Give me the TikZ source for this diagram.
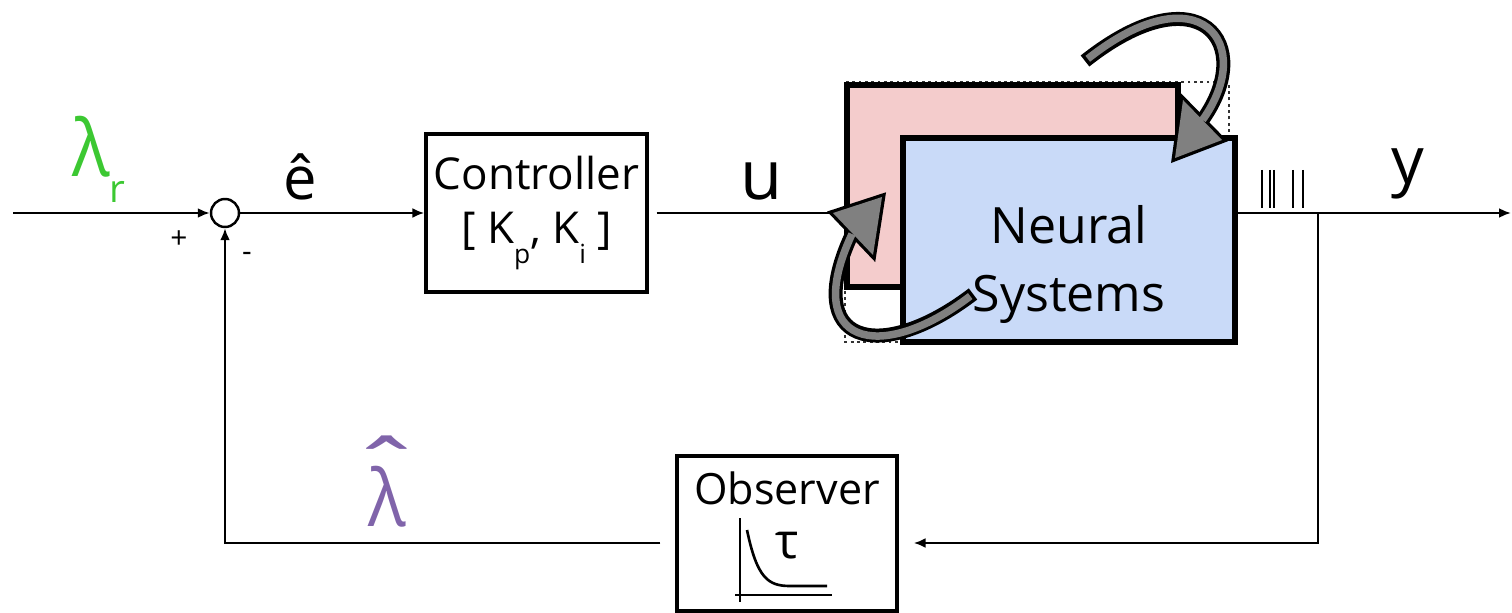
\documentclass[tikz,border=0pt]{standalone}
\usepackage{fontspec}
\setmainfont{Open Sans}
\usepackage{graphicx}
\usetikzlibrary{arrows.meta,positioning,calc}
\definecolor{lamgreen}{RGB}{60,200,50}
\definecolor{lampurple}{RGB}{128,100,170}
\definecolor{nsred}{RGB}{244,204,204}
\definecolor{nsblue}{RGB}{201,218,248}
\definecolor{arrowgray}{RGB}{128,128,128}
\newcommand{\lowsub}[1]{\raisebox{-0.45em}{\fontsize{15}{15}\selectfont #1}}
\newcommand{\talllam}{\scalebox{1}[1.12]{λ}}
\newcommand{\hatlam}{\ooalign{\talllam\cr\hidewidth\raisebox{0.52cm}{\scalebox{1.75}[1.2]{ˆ}}\hidewidth\cr}}
\tikzset{
  loopbox/.style={
    rectangle,
    draw=black,
    fill=white,
    line width=1.9pt,
    inner sep=0pt
  },
  loopsum/.style={
    circle,
    draw=black,
    line width=1.4pt,
    minimum size=5.6mm,
    inner sep=0pt
  },
  loopplant/.style={
    rectangle,
    draw=black,
    line width=3.4pt,
    inner sep=0pt,
    minimum width=6.64cm,
    minimum height=4.08cm
  },
  loopdots/.style={
    dotted,
    line width=1.6pt,
    draw=black!80
  },
  looparrow/.style={
    -{Latex[length=2.4mm,width=2mm]},
    line width=1.5pt,
    draw=black
  },
  loopline/.style={
    line width=1.5pt,
    draw=black
  },
  looptext/.style={
    anchor=base,
    inner sep=0pt
  },
  loopshaft/.style={
    line width=2.8mm,
    draw=black
  },
  loopshaftfill/.style={
    line width=1.5mm,
    draw=arrowgray,
    shorten <=0.7mm
  },
  loophead/.style={
    draw=black,
    line width=1.3mm
  },
  loopheadfill/.style={
    fill=arrowgray
  }
}

\begin{document}
\begin{tikzpicture}[x=0.2mm,y=-0.2mm]
  \useasboundingbox (0,0) rectangle (1512,613);

  \node[loopsum] (sum) at (225,213) {};
  \node[loopbox,minimum width=4.42cm,minimum height=3.16cm,align=center,
    font=\fontsize{25}{31}\selectfont] (ctrl) at (536.5,213)
    {Controller\\{}[ K\lowsub{p}, K\lowsub{i} ]};

  \draw[loopdots] (845,82) rectangle (1229,342);
  \node[loopplant,fill=nsred,minimum width=6.62cm,minimum height=4.04cm]
    (ensemble) at (1012.5,186) {};
  \node[loopplant,fill=nsblue] (neural) at (1069,240) {};
  \node[align=center,font=\fontsize{28.5}{38.7}\selectfont] (neurallabel) at (1069,264)
    {Neural\\Systems};

  \node[loopbox,minimum width=4.4cm,minimum height=3.1cm] (obs) at (787,533.5) {};
  \node[looptext,font=\fontsize{24.5}{26}\selectfont] (obstitle) at (787,504) {Observer};
  \node[looptext,font=\fontsize{28}{28}\selectfont] (tau) at (787,558) {τ};
  % kleine Abklingkurve im Beobachter
  \draw[line width=0.6pt] (740,518) -- (740,602);
  \draw[line width=0.6pt] (735,595) -- (832,595);
  \draw[line width=1.5pt] (747,530) .. controls (757,578) and (768,586) .. (790,586) -- (827,586);

  % Signalnamen
  \node[looptext,text=lamgreen,font=\fontsize{40}{40}\selectfont] (lamref) at (99,177)
    {\talllam\raisebox{-0.52cm}{\fontsize{22}{22}\selectfont r}};
  \node[looptext,font=\fontsize{34}{34}\selectfont] (ehat) at (300,200) {ê};
  \node[looptext,font=\fontsize{39}{39}\selectfont] (usig) at (762,200) {u};
  \node[looptext,font=\fontsize{37}{37}\selectfont] (ysig) at (1408,183) {y};
  \node[inner sep=0pt,font=\fontsize{17}{17}\selectfont] (plus) at (179,240) {+};
  \node[inner sep=0pt,font=\fontsize{17}{17}\selectfont] (minus) at (247,257) {-};
  \node[looptext,text=lampurple,font=\fontsize{40}{40}\selectfont] (lamest) at (387,526) {\hatlam};

  \coordinate (lamin) at (13,213);
  \coordinate (yout) at (1511,213);
  \coordinate (ytap) at (1318,213);
  \draw[looparrow] (lamin) -- (sum.west);
  \draw[looparrow] (sum.east) -- (ctrl.west);
  \draw[loopline,shorten <=1.6mm] (ctrl.east) -- (ctrl.east -| ensemble.west);
  \draw[looparrow] (neural.east |- yout) -- (yout);
  \draw[looparrow,shorten >=3mm] (ytap) |- ($(obs.east)+(0,9.5)$);
  \draw[looparrow,shorten <=3mm] ($(obs.west)+(0,9.5)$) -| (sum.south);

  % Spikes am Ausgang
  \foreach \tx in {1262,1270,1274,1293,1303}
    \draw[line width=0.9pt] (\tx,170) -- (\tx,208);

  % Rueckkopplungspfeile um das Netzwerk
  \coordinate (toptail) at (1085,61);
  \coordinate (topbase) at (1202.5,120);
  \coordinate (lowtail) at (973,294);
  \coordinate (lowbase) at (852,234);
  \draw[loopshaft] (toptail) .. controls (1200,-30) and (1257,44) .. (topbase);
  \draw[loophead] (1183,100) -- (1175,158) -- (1222,140) -- cycle;
  \draw[loopshaftfill] (toptail) .. controls (1200,-30) and (1257,44) .. (topbase);
  \fill[loopheadfill] (1183,100) -- (1175,158) -- (1222,140) -- cycle;
  \draw[loopshaft] (lowtail) .. controls (880,365) and (800,345) .. (lowbase);
  \draw[loophead] (833,213) -- (882,197) -- (873,255) -- cycle;
  \draw[loopshaftfill] (lowtail) .. controls (880,365) and (800,345) .. (lowbase);
  \fill[loopheadfill] (833,213) -- (882,197) -- (873,255) -- cycle;
\end{tikzpicture}
\end{document}
